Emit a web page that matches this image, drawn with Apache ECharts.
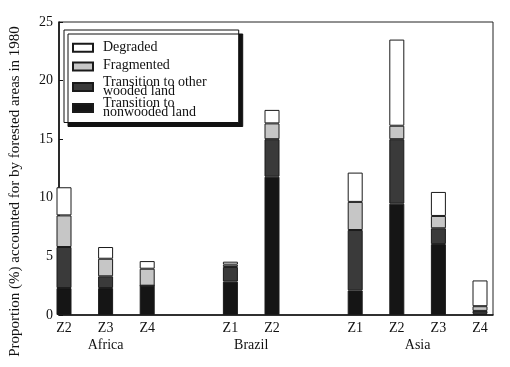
<!DOCTYPE html>
<html>
<head>
<meta charset="utf-8">
<script src="https://cdn.jsdelivr.net/npm/echarts@6/dist/echarts.min.js"></script>
<style>
html,body{margin:0;padding:0;background:#fff;}
#chart{width:510px;height:367px;}
</style>
</head>
<body>
<div id="chart"></div>
<script>
// ---- data ----
var zones   = ['Z2', 'Z3', 'Z4', '', 'Z1', 'Z2', '', 'Z1', 'Z2', 'Z3', 'Z4'];
var regions = ['Africa', 'Africa', 'Africa', 'gap', 'Brazil', 'Brazil', 'gap', 'Asia', 'Asia', 'Asia', 'Asia'];
var groupNames = ['Africa', 'Brazil', 'Asia'];
var nonwooded   = [2.3, 2.3, 2.5, null, 2.85, 11.8, null, 2.1, 9.5, 6.05, 0.1];
var otherWooded = [3.5, 1.0, 0.0, null, 1.25, 3.2, null, 5.15, 5.5, 1.35, 0.25];
var fragmented  = [2.7, 1.5, 1.45, null, 0.2, 1.35, null, 2.4, 1.15, 1.05, 0.4];
var degraded    = [2.4, 1.0, 0.65, null, 0.25, 1.15, null, 2.5, 7.35, 2.05, 2.2];
var yTicks = [0, 5, 10, 15, 20, 25];

var categories = zones.map(function (z, i) { return regions[i] + '|' + z + '|' + i; });

var FONT = "'Liberation Serif','DejaVu Serif',serif";
var INK = '#111';

var chart = echarts.init(document.getElementById('chart'), null, {renderer: 'canvas'});

var names = {
  deg: 'Degraded',
  frag: 'Fragmented',
  other: 'Transition to other wooded land',
  non: 'Transition to nonwooded land'
};

function mkSeries(name, data, color) {
  return {
    name: name,
    type: 'bar',
    stack: 'total',
    xAxisIndex: 1,
    yAxisIndex: 1,
    barWidth: 15,
    data: data,
    itemStyle: {color: color, borderColor: '#1a1a1a', borderWidth: 1},
    emphasis: {disabled: true}
  };
}

var option = {
  animation: false,
  backgroundColor: '#fff',
  textStyle: {fontFamily: FONT, color: INK},
  grid: [
    {left: 53, right: 17, top: 22, bottom: 52, show: true, borderColor: '#222', borderWidth: 1, backgroundColor: 'transparent'},
    {left: 43.2, width: 457.6, top: 22, bottom: 52}
  ],
  xAxis: [
    {type: 'category', gridIndex: 0, data: categories, show: true,
     axisLine: {show: true, lineStyle: {color: '#111', width: 1.6}},
     axisTick: {show: false}, axisLabel: {show: false}},
    {type: 'category', gridIndex: 1, data: categories,
     axisLine: {show: false}, axisTick: {show: false},
     axisLabel: {show: true, interval: 0, margin: 6, fontFamily: FONT, fontSize: 14, color: INK,
       formatter: function (v) { return v.split('|')[1]; }}}
  ],
  yAxis: [
    {type: 'value', gridIndex: 0, min: 0, max: 25, interval: 5,
     name: 'Proportion (%) accounted for by forested areas in 1980',
     nameLocation: 'middle', nameGap: 36,
     nameTextStyle: {fontFamily: FONT, fontSize: 15, color: INK, padding: [0, 46, 0, 0]},
     axisLine: {show: true, lineStyle: {color: '#111', width: 1.6}},
     axisTick: {show: true, inside: true, length: 4, lineStyle: {color: '#111'}},
     axisLabel: {margin: 6, fontFamily: FONT, fontSize: 14, color: INK,
       formatter: function (v) { return yTicks.indexOf(v) >= 0 ? String(v) : ''; }},
     splitLine: {show: false}},
    {type: 'value', gridIndex: 1, min: 0, max: 25, show: false, splitLine: {show: false}}
  ],
  legend: {
    orient: 'vertical',
    left: 64, top: 30,
    padding: [8, 32, 3, 8],
    itemGap: -2,
    icon: 'rect',
    itemWidth: 20, itemHeight: 8,
    backgroundColor: '#fff',
    borderColor: '#111', borderWidth: 1,
    shadowColor: '#111', shadowBlur: 0, shadowOffsetX: 4, shadowOffsetY: 4,
    data: [names.deg, names.frag, names.other, names.non],
    selectedMode: false,
    textStyle: {
      fontFamily: FONT, fontSize: 14, color: INK, lineHeight: 9,
      rich: {
        a: {fontFamily: FONT, fontSize: 14, color: INK, lineHeight: 14, padding: [2.75, 0, 2.75, 5]},
        f: {fontFamily: FONT, fontSize: 14, color: INK, lineHeight: 14, padding: [2.75, 0, 5.25, 5]},
        b: {fontFamily: FONT, fontSize: 14, color: INK, lineHeight: 9, padding: [0, 0, 0, 5]}
      }
    },
    formatter: function (n) {
      if (n === names.other) return '{b|Transition to other}\n{b|wooded land}';
      if (n === names.non) return '{b|Transition to}\n{b|nonwooded land}';
      if (n === names.frag) return '{f|' + n + '}';
      return '{a|' + n + '}';
    }
  },
  series: [
    mkSeries(names.non, nonwooded, '#151515'),
    mkSeries(names.other, otherWooded, '#3a3a3a'),
    mkSeries(names.frag, fragmented, '#c6c6c6'),
    mkSeries(names.deg, degraded, '#ffffff')
  ]
};

chart.setOption(option);

// group labels centred under their bars, positions from the category axis
var groupEls = groupNames.map(function (g) {
  var idx = [];
  regions.forEach(function (r, i) { if (r === g) idx.push(i); });
  var xs = idx.map(function (i) { return chart.convertToPixel({xAxisIndex: 1}, categories[i]); });
  var cx = (xs[0] + xs[xs.length - 1]) / 2;
  var yBase = chart.convertToPixel({yAxisIndex: 1}, 0);
  return {
    type: 'text', x: cx, y: yBase + 30, silent: true,
    style: {text: g, fill: INK, font: '14px ' + FONT, textAlign: 'center', textVerticalAlign: 'middle'}
  };
});
chart.setOption({graphic: groupEls});
</script>
</body>
</html>
